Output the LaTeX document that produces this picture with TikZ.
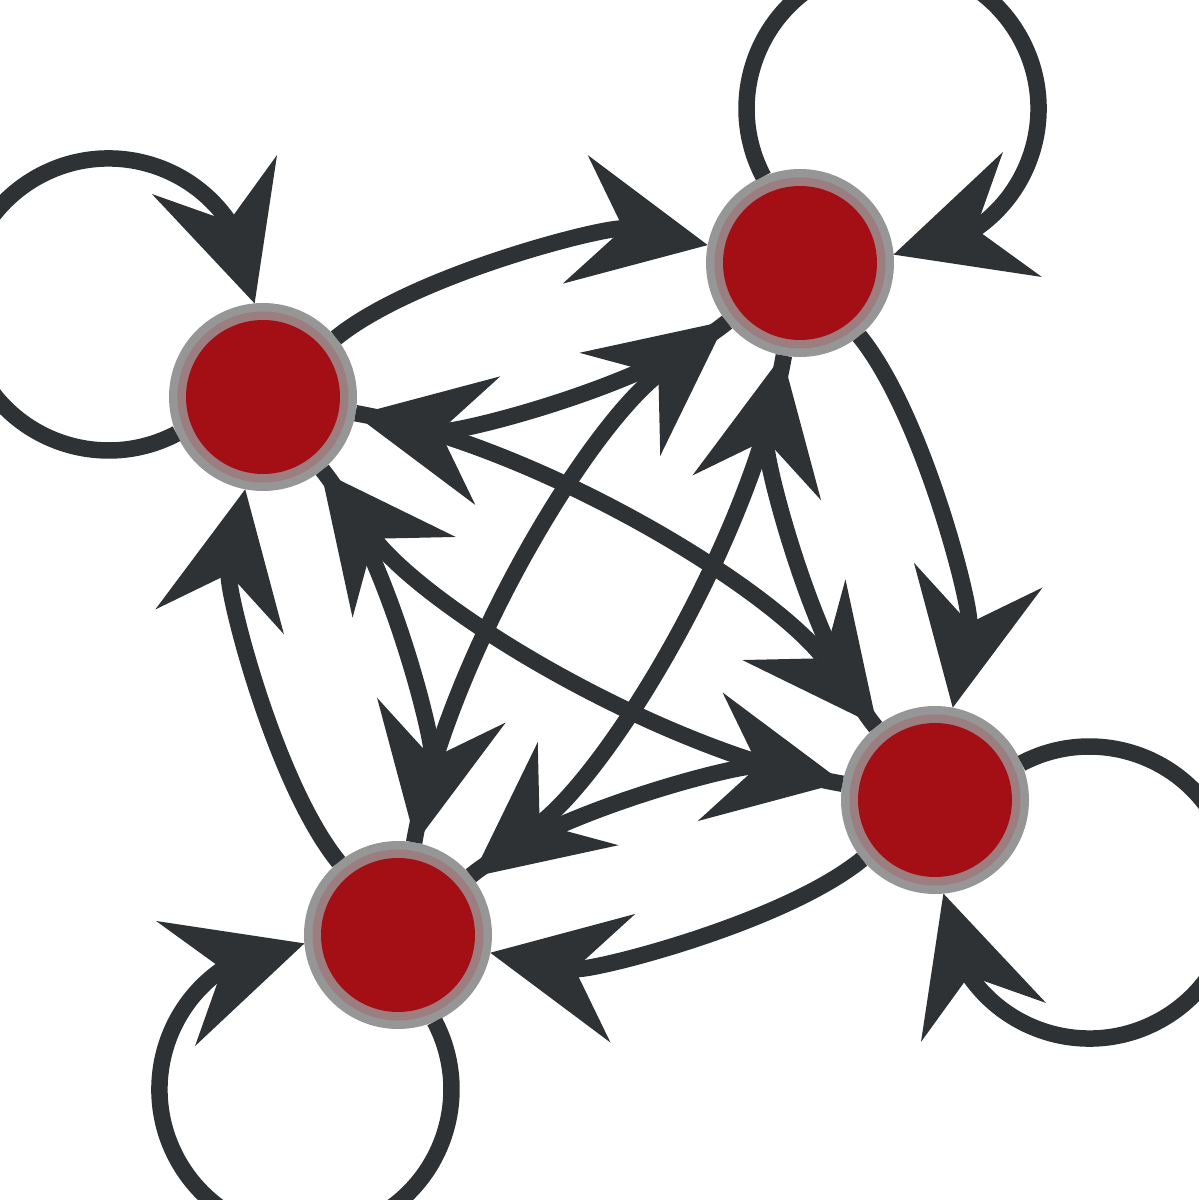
\documentclass[tikz,border=0pt]{standalone}
\usetikzlibrary{arrows.meta,bending}

\definecolor{linkgray}{RGB}{46,50,53}
\definecolor{vertexred}{RGB}{163,15,21}
\definecolor{ringgray}{RGB}{150,150,150}
\definecolor{ringmauve}{RGB}{156,126,128}

\tikzset{
  vertex/.style = {circle, minimum size = 1.88cm, inner sep = 0pt, outer sep = 0pt, fill = ringgray,
    path picture = {\fill [ringmauve] (path picture bounding box.center) circle [radius = 0.855cm];
                    \fill [vertexred] (path picture bounding box.center) circle [radius = 0.77cm];}},
  link/.style = {draw = linkgray, line width = 0.165cm,
    -{Stealth[quick, length = 1.35cm, width = 1.31cm, inset = 0.49cm, line width = 0pt]}},
  looplink/.style = {draw = linkgray, line width = 0.165cm,
    -{Stealth[flex, length = 1.35cm, width = 1.31cm, inset = 0.49cm, line width = 0pt]}},
  sidelink/.style = {link, bend left = 25, looseness = 0.68},
  diaglink/.style = {link, bend left = 21, looseness = 0.76}
}

\begin{document}
\begin{tikzpicture}

\useasboundingbox (0,0) rectangle (11.99,12);
\clip (0,0) rectangle (11.99,12);

\node [vertex] (v1) at (2.63,8.03) {};
\node [vertex] (v2) at (8.00,9.37) {};
\node [vertex] (v3) at (9.35,4.00) {};
\node [vertex] (v4) at (3.98,2.65) {};

\draw [sidelink] (v1) to (v2);
\draw [sidelink] (v2) to (v1);
\draw [sidelink] (v2) to (v3);
\draw [sidelink] (v3) to (v2);
\draw [sidelink] (v3) to (v4);
\draw [sidelink] (v4) to (v3);
\draw [sidelink] (v4) to (v1);
\draw [sidelink] (v1) to (v4);

\draw [diaglink] (v1) to (v3);
\draw [diaglink] (v3) to (v1);
\draw [diaglink] (v2) to (v4);
\draw [diaglink] (v4) to (v2);

\draw [looplink] (v1.203) arc [start angle = 297.7, delta angle = -297.3, radius = 1.46cm];
\draw [looplink] (v2.113) arc [start angle = 207.7, delta angle = -297.3, radius = 1.46cm];
\draw [looplink] (v3.23) arc [start angle = 117.7, delta angle = -297.3, radius = 1.46cm];
\draw [looplink] (v4.293) arc [start angle = 27.7, delta angle = -297.3, radius = 1.46cm];
\end{tikzpicture}
\end{document}
